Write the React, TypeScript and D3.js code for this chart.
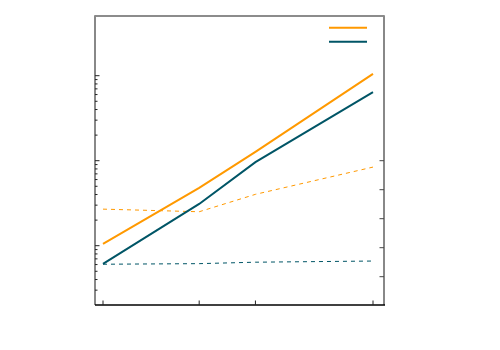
import React, { useEffect, useRef } from 'react';
import * as d3 from 'd3';

// x positions (log scale)
const xValues = [1, 2, 3, 7];
// solid lines, left log axis
const orangeSolid = [1.05, 4.8, 12.7, 105];
const blueSolid = [0.61, 3.1, 9.6, 64];
// dashed lines, right linear axis
const orangeDashed = [3.33, 3.24, 3.84, 4.78];
const blueDashed = [1.43, 1.45, 1.5, 1.54];
const leftMinorTicks = [0.3, 0.4, 0.5, 0.6, 0.7, 0.8, 0.9, 2, 3, 4, 5, 6, 7, 8, 9, 20, 30, 40, 50, 60, 70, 80, 90];
const leftMajorTicks = [1, 10, 100];
const rightTicks = [1, 2, 3, 4, 5];

const ORANGE = '#ff9900';
const BLUE = '#005566';

export default function App() {
    const ref = useRef<SVGSVGElement>(null);

    useEffect(() => {
        const svg = d3.select(ref.current);
        svg.selectAll('*').remove();

        const left = 95, right = 384, top = 16, bottom = 305;

        const x = d3.scaleLog().domain([1, 7]).range([103, 373]);
        const yL = d3.scaleLog().domain([1, 100]).range([245.7, 75.7]);
        const yR = d3.scaleLinear().domain([1, 5]).range([276.7, 160.7]);

        // frame
        svg.append('line')
            .attr('x1', left).attr('x2', right).attr('y1', top).attr('y2', top)
            .attr('stroke', '#666').attr('stroke-width', 1.5);
        svg.append('line')
            .attr('x1', left).attr('x2', left).attr('y1', top - 0.75).attr('y2', bottom)
            .attr('stroke', '#888').attr('stroke-width', 2);
        svg.append('line')
            .attr('x1', right).attr('x2', right).attr('y1', top - 0.75).attr('y2', bottom)
            .attr('stroke', '#888').attr('stroke-width', 2);
        svg.append('line')
            .attr('x1', left).attr('x2', right + 1).attr('y1', bottom).attr('y2', bottom)
            .attr('stroke', '#000').attr('stroke-width', 1.5);

        // left ticks (inward)
        svg.selectAll('.lminor').data(leftMinorTicks).enter().append('line')
            .attr('x1', left).attr('x2', left + 2.5)
            .attr('y1', d => yL(d)).attr('y2', d => yL(d))
            .attr('stroke', '#222').attr('stroke-width', 1);
        svg.selectAll('.lmajor').data(leftMajorTicks).enter().append('line')
            .attr('x1', left).attr('x2', left + 4.5)
            .attr('y1', d => yL(d)).attr('y2', d => yL(d))
            .attr('stroke', '#222').attr('stroke-width', 1);

        // right ticks
        svg.selectAll('.rtick').data(rightTicks).enter().append('line')
            .attr('x1', right - 4.5).attr('x2', right)
            .attr('y1', d => yR(d)).attr('y2', d => yR(d))
            .attr('stroke', '#444').attr('stroke-width', 1);

        // bottom ticks
        svg.selectAll('.xtick').data(xValues).enter().append('line')
            .attr('x1', d => x(d)).attr('x2', d => x(d))
            .attr('y1', bottom).attr('y2', bottom - 4.5)
            .attr('stroke', '#222').attr('stroke-width', 1);

        const lineL = d3.line<number>().x((d, i) => x(xValues[i])).y(d => yL(d));
        const lineR = d3.line<number>().x((d, i) => x(xValues[i])).y(d => yR(d));

        svg.append('path').attr('d', lineR(orangeDashed)!)
            .attr('fill', 'none').attr('stroke', ORANGE).attr('stroke-width', 1)
            .attr('stroke-dasharray', '4,4');
        svg.append('path').attr('d', lineR(blueDashed)!)
            .attr('fill', 'none').attr('stroke', BLUE).attr('stroke-width', 1)
            .attr('stroke-dasharray', '4,4');
        svg.append('path').attr('d', lineL(orangeSolid)!)
            .attr('fill', 'none').attr('stroke', ORANGE).attr('stroke-width', 2);
        svg.append('path').attr('d', lineL(blueSolid)!)
            .attr('fill', 'none').attr('stroke', BLUE).attr('stroke-width', 2);

        // legend (lines only)
        const legend = [ORANGE, BLUE];
        svg.selectAll('.leg').data(legend).enter().append('line')
            .attr('x1', 329).attr('x2', 367)
            .attr('y1', (d, i) => 27.7 + i * 14).attr('y2', (d, i) => 27.7 + i * 14)
            .attr('stroke', d => d).attr('stroke-width', 2);
    }, []);

    return (
        <svg ref={ref} width={500} height={350}
            style={{ position: 'absolute', left: 0, top: 0, background: '#fff' }} />
    );
}
